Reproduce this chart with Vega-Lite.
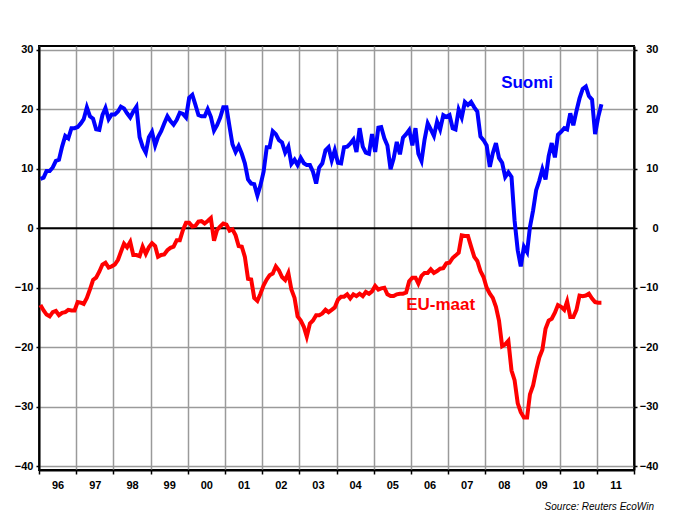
{
"$schema": "https://vega.github.io/schema/vega-lite/v6.json",
"width": 595, "height": 424,
"autosize": {"type": "none"},
"padding": {"left": 39, "top": 46, "right": 48, "bottom": 42},
"background": "white",
"config": {"font": "Liberation Sans", "view": {"stroke": "black", "strokeWidth": 2}},
"title": {"text": "Source: Reuters EcoWin", "orient": "bottom", "anchor": "end", "fontSize": 10, "fontStyle": "italic", "fontWeight": "normal", "color": "black", "offset": 12, "dx": -4},
"datasets": {
"main": [
{"d":"1996-01-15","fi":8.3,"eu":-12.9},{"d":"1996-02-15","fi":8.5,"eu":-13.8},{"d":"1996-03-15","fi":9.6,"eu":-14.5},{"d":"1996-04-15","fi":9.6,"eu":-14.8},{"d":"1996-05-15","fi":10.2,"eu":-14.1},{"d":"1996-06-15","fi":11.3,"eu":-13.9},{"d":"1996-07-15","fi":11.5,"eu":-14.6},{"d":"1996-08-15","fi":13.7,"eu":-14.2},{"d":"1996-09-15","fi":15.5,"eu":-14.1},{"d":"1996-10-15","fi":15.1,"eu":-13.7},{"d":"1996-11-15","fi":16.8,"eu":-13.8},{"d":"1996-12-15","fi":16.8,"eu":-13.8},
{"d":"1997-01-15","fi":17.0,"eu":-12.4},{"d":"1997-02-15","fi":17.6,"eu":-12.5},{"d":"1997-03-15","fi":18.3,"eu":-12.7},{"d":"1997-04-15","fi":20.3,"eu":-11.7},{"d":"1997-05-15","fi":18.8,"eu":-10.3},{"d":"1997-06-15","fi":18.4,"eu":-8.7},{"d":"1997-07-15","fi":16.6,"eu":-8.3},{"d":"1997-08-15","fi":16.5,"eu":-7.3},{"d":"1997-09-15","fi":19.0,"eu":-6.1},{"d":"1997-10-15","fi":20.2,"eu":-5.8},{"d":"1997-11-15","fi":18.3,"eu":-6.6},{"d":"1997-12-15","fi":19.1,"eu":-6.4},
{"d":"1998-01-15","fi":19.1,"eu":-6.1},{"d":"1998-02-15","fi":19.6,"eu":-5.3},{"d":"1998-03-15","fi":20.4,"eu":-4.0},{"d":"1998-04-15","fi":20.1,"eu":-2.6},{"d":"1998-05-15","fi":19.3,"eu":-3.2},{"d":"1998-06-15","fi":18.6,"eu":-2.3},{"d":"1998-07-15","fi":19.6,"eu":-4.5},{"d":"1998-08-15","fi":20.4,"eu":-4.5},{"d":"1998-09-15","fi":15.3,"eu":-4.7},{"d":"1998-10-15","fi":13.7,"eu":-3.1},{"d":"1998-11-15","fi":12.7,"eu":-4.3},{"d":"1998-12-15","fi":15.3,"eu":-3.2},
{"d":"1999-01-15","fi":16.2,"eu":-2.5},{"d":"1999-02-15","fi":13.9,"eu":-3.0},{"d":"1999-03-15","fi":15.3,"eu":-4.8},{"d":"1999-04-15","fi":16.3,"eu":-4.5},{"d":"1999-05-15","fi":17.6,"eu":-4.4},{"d":"1999-06-15","fi":18.8,"eu":-3.7},{"d":"1999-07-15","fi":18.0,"eu":-3.3},{"d":"1999-08-15","fi":17.4,"eu":-3.1},{"d":"1999-09-15","fi":18.2,"eu":-2.0},{"d":"1999-10-15","fi":19.4,"eu":-2.0},{"d":"1999-11-15","fi":19.2,"eu":-0.3},{"d":"1999-12-15","fi":18.6,"eu":0.9},
{"d":"2000-01-15","fi":21.9,"eu":0.9},{"d":"2000-02-15","fi":22.4,"eu":0.3},{"d":"2000-03-15","fi":20.8,"eu":0.4},{"d":"2000-04-15","fi":19.0,"eu":1.1},{"d":"2000-05-15","fi":18.8,"eu":1.2},{"d":"2000-06-15","fi":18.8,"eu":0.8},{"d":"2000-07-15","fi":20.0,"eu":1.2},{"d":"2000-08-15","fi":18.7,"eu":1.7},{"d":"2000-09-15","fi":16.4,"eu":-2.1},{"d":"2000-10-15","fi":17.3,"eu":-0.3},{"d":"2000-11-15","fi":18.6,"eu":0.3},{"d":"2000-12-15","fi":20.3,"eu":0.8},
{"d":"2001-01-15","fi":20.3,"eu":0.6},{"d":"2001-02-15","fi":17.0,"eu":-0.4},{"d":"2001-03-15","fi":14.1,"eu":-0.2},{"d":"2001-04-15","fi":12.8,"eu":-1.2},{"d":"2001-05-15","fi":13.8,"eu":-3.0},{"d":"2001-06-15","fi":12.5,"eu":-3.1},{"d":"2001-07-15","fi":10.9,"eu":-4.8},{"d":"2001-08-15","fi":8.2,"eu":-8.5},{"d":"2001-09-15","fi":7.5,"eu":-8.6},{"d":"2001-10-15","fi":7.4,"eu":-11.7},{"d":"2001-11-15","fi":5.5,"eu":-12.2},{"d":"2001-12-15","fi":7.2,"eu":-11.0},
{"d":"2002-01-15","fi":9.5,"eu":-9.6},{"d":"2002-02-15","fi":13.6,"eu":-8.6},{"d":"2002-03-15","fi":13.6,"eu":-7.9},{"d":"2002-04-15","fi":16.3,"eu":-7.6},{"d":"2002-05-15","fi":15.8,"eu":-6.4},{"d":"2002-06-15","fi":14.8,"eu":-7.1},{"d":"2002-07-15","fi":14.4,"eu":-8.2},{"d":"2002-08-15","fi":12.7,"eu":-8.7},{"d":"2002-09-15","fi":13.7,"eu":-7.5},{"d":"2002-10-15","fi":10.8,"eu":-10.3},{"d":"2002-11-15","fi":11.5,"eu":-11.7},{"d":"2002-12-15","fi":10.6,"eu":-14.8},
{"d":"2003-01-15","fi":11.8,"eu":-15.5},{"d":"2003-02-15","fi":10.9,"eu":-16.6},{"d":"2003-03-15","fi":10.6,"eu":-18.2},{"d":"2003-04-15","fi":10.6,"eu":-16.0},{"d":"2003-05-15","fi":9.5,"eu":-15.5},{"d":"2003-06-15","fi":7.5,"eu":-14.6},{"d":"2003-07-15","fi":10.2,"eu":-14.6},{"d":"2003-08-15","fi":10.9,"eu":-14.3},{"d":"2003-09-15","fi":13.1,"eu":-13.7},{"d":"2003-10-15","fi":13.6,"eu":-14.1},{"d":"2003-11-15","fi":11.4,"eu":-13.7},{"d":"2003-12-15","fi":13.1,"eu":-13.3},
{"d":"2004-01-15","fi":11.0,"eu":-12.0},{"d":"2004-02-15","fi":10.9,"eu":-11.5},{"d":"2004-03-15","fi":13.6,"eu":-11.5},{"d":"2004-04-15","fi":13.7,"eu":-11.1},{"d":"2004-05-15","fi":14.2,"eu":-11.8},{"d":"2004-06-15","fi":14.9,"eu":-11.1},{"d":"2004-07-15","fi":12.8,"eu":-11.4},{"d":"2004-08-15","fi":16.8,"eu":-11.0},{"d":"2004-09-15","fi":13.7,"eu":-11.4},{"d":"2004-10-15","fi":12.7,"eu":-10.7},{"d":"2004-11-15","fi":12.5,"eu":-11.0},{"d":"2004-12-15","fi":15.8,"eu":-10.6},
{"d":"2005-01-15","fi":12.8,"eu":-9.7},{"d":"2005-02-15","fi":16.9,"eu":-10.3},{"d":"2005-03-15","fi":17.0,"eu":-10.1},{"d":"2005-04-15","fi":15.1,"eu":-10.0},{"d":"2005-05-15","fi":13.9,"eu":-11.1},{"d":"2005-06-15","fi":9.9,"eu":-11.4},{"d":"2005-07-15","fi":11.7,"eu":-11.4},{"d":"2005-08-15","fi":14.5,"eu":-11.1},{"d":"2005-09-15","fi":12.4,"eu":-11.0},{"d":"2005-10-15","fi":15.2,"eu":-11.0},{"d":"2005-11-15","fi":15.8,"eu":-10.8},{"d":"2005-12-15","fi":16.5,"eu":-8.9},
{"d":"2006-01-15","fi":13.9,"eu":-8.3},{"d":"2006-02-15","fi":16.8,"eu":-8.3},{"d":"2006-03-15","fi":12.5,"eu":-9.3},{"d":"2006-04-15","fi":11.3,"eu":-8.0},{"d":"2006-05-15","fi":14.9,"eu":-7.5},{"d":"2006-06-15","fi":17.6,"eu":-7.5},{"d":"2006-07-15","fi":16.6,"eu":-6.9},{"d":"2006-08-15","fi":15.5,"eu":-7.5},{"d":"2006-09-15","fi":17.9,"eu":-7.2},{"d":"2006-10-15","fi":16.6,"eu":-6.8},{"d":"2006-11-15","fi":19.0,"eu":-6.7},{"d":"2006-12-15","fi":18.7,"eu":-5.9},
{"d":"2007-01-15","fi":19.0,"eu":-5.8},{"d":"2007-02-15","fi":16.8,"eu":-5.0},{"d":"2007-03-15","fi":16.6,"eu":-4.6},{"d":"2007-04-15","fi":19.9,"eu":-4.1},{"d":"2007-05-15","fi":18.6,"eu":-1.2},{"d":"2007-06-15","fi":21.2,"eu":-1.3},{"d":"2007-07-15","fi":20.7,"eu":-1.3},{"d":"2007-08-15","fi":21.2,"eu":-3.1},{"d":"2007-09-15","fi":20.3,"eu":-4.8},{"d":"2007-10-15","fi":19.6,"eu":-5.5},{"d":"2007-11-15","fi":15.4,"eu":-7.2},{"d":"2007-12-15","fi":14.8,"eu":-8.2},
{"d":"2008-01-15","fi":13.9,"eu":-10.0},{"d":"2008-02-15","fi":10.3,"eu":-11.0},{"d":"2008-03-15","fi":12.6,"eu":-11.7},{"d":"2008-04-15","fi":14.3,"eu":-13.2},{"d":"2008-05-15","fi":11.8,"eu":-15.5},{"d":"2008-06-15","fi":11.0,"eu":-19.8},{"d":"2008-07-15","fi":8.6,"eu":-19.5},{"d":"2008-08-15","fi":9.4,"eu":-18.9},{"d":"2008-09-15","fi":8.6,"eu":-23.9},{"d":"2008-10-15","fi":1.3,"eu":-25.5},{"d":"2008-11-15","fi":-3.7,"eu":-29.4},{"d":"2008-12-15","fi":-6.4,"eu":-30.9},
{"d":"2009-01-15","fi":-3.1,"eu":-31.8},{"d":"2009-02-15","fi":-4.0,"eu":-31.8},{"d":"2009-03-15","fi":0.2,"eu":-27.9},{"d":"2009-04-15","fi":3.0,"eu":-26.4},{"d":"2009-05-15","fi":6.4,"eu":-23.9},{"d":"2009-06-15","fi":8.0,"eu":-21.7},{"d":"2009-07-15","fi":9.9,"eu":-20.4},{"d":"2009-08-15","fi":8.2,"eu":-16.9},{"d":"2009-09-15","fi":12.1,"eu":-15.5},{"d":"2009-10-15","fi":14.3,"eu":-15.2},{"d":"2009-11-15","fi":11.9,"eu":-14.2},{"d":"2009-12-15","fi":15.7,"eu":-12.9},
{"d":"2010-01-15","fi":16.2,"eu":-13.2},{"d":"2010-02-15","fi":16.8,"eu":-13.7},{"d":"2010-03-15","fi":16.6,"eu":-12.3},{"d":"2010-04-15","fi":19.3,"eu":-14.9},{"d":"2010-05-15","fi":17.3,"eu":-14.9},{"d":"2010-06-15","fi":19.7,"eu":-13.7},{"d":"2010-07-15","fi":21.8,"eu":-11.3},{"d":"2010-08-15","fi":23.4,"eu":-11.4},{"d":"2010-09-15","fi":23.8,"eu":-11.3},{"d":"2010-10-15","fi":22.2,"eu":-11.0},{"d":"2010-11-15","fi":21.6,"eu":-11.8},{"d":"2010-12-15","fi":15.8,"eu":-12.4},
{"d":"2011-01-15","fi":18.7,"eu":-12.5},{"d":"2011-02-15","fi":20.8,"eu":-12.5}
]
},
"layer": [
{
"data": {"values": [{"z": 0}]},
"mark": {"type": "rule", "color": "black", "strokeWidth": 2},
"encoding": {"y": {"field": "z", "type": "quantitative", "axis": null, "scale": {"domain": [-40.6, 30.6], "nice": false, "zero": false}}}
},
{
"data": {"name": "main"},
"mark": {"type": "line", "color": "#ff0000", "strokeWidth": 4},
"encoding": {
"x": {"field": "d", "type": "temporal",
"scale": {"domain": [{"year": 1996, "month": 1, "date": 1}, {"year": 2012, "month": 1, "date": 1}], "nice": false},
"axis": {"title": null, "values": [{"year":1996,"month":1,"date":1},{"year":1997,"month":1,"date":1},{"year":1998,"month":1,"date":1},{"year":1999,"month":1,"date":1},{"year":2000,"month":1,"date":1},{"year":2001,"month":1,"date":1},{"year":2002,"month":1,"date":1},{"year":2003,"month":1,"date":1},{"year":2004,"month":1,"date":1},{"year":2005,"month":1,"date":1},{"year":2006,"month":1,"date":1},{"year":2007,"month":1,"date":1},{"year":2008,"month":1,"date":1},{"year":2009,"month":1,"date":1},{"year":2010,"month":1,"date":1},{"year":2011,"month":1,"date":1},{"year":2012,"month":1,"date":1}],
"format": "%y", "labelExpr": "year(datum.value) > 2011 ? '' : datum.label",
"labelOffset": 18.6, "labelAlign": "center", "labelFlush": false, "labelOverlap": false,
"labelFont": "Liberation Sans", "labelFontSize": 11, "labelFontWeight": "bold", "labelColor": "black", "labelPadding": 5,
"tickSize": 4, "tickColor": "black", "tickWidth": 1.5,
"domainColor": "black", "domainWidth": 2,
"grid": true, "gridColor": "#9a9a9a", "gridWidth": 1.5}},
"y": {"field": "eu", "type": "quantitative",
"scale": {"domain": [-40.6, 30.6], "nice": false, "zero": false},
"axis": {"title": null, "orient": "left", "values": [-40,-30,-20,-10,0,10,20,30],
"labelFont": "Liberation Sans", "labelFontSize": 11, "labelFontWeight": "bold", "labelColor": "black", "labelPadding": 3,
"tickSize": 3, "tickColor": "black", "tickWidth": 1.5,
"domainColor": "black", "domainWidth": 2,
"grid": true, "gridColor": "#9a9a9a", "gridWidth": 1.5}}
}
},
{
"data": {"name": "main"},
"mark": {"type": "line", "color": "#0000ff", "strokeWidth": 4},
"encoding": {
"x": {"field": "d", "type": "temporal", "axis": null},
"y": {"field": "fi", "type": "quantitative",
"axis": {"title": null, "orient": "right", "values": [-40,-30,-20,-10,0,10,20,30],
"labelFont": "Liberation Sans", "labelFontSize": 11, "labelFontWeight": "bold", "labelColor": "black", "labelAlign": "right", "labelPadding": 21,
"tickSize": 3, "tickColor": "black", "tickWidth": 1.5,
"domainColor": "black", "domainWidth": 2, "grid": false}}
}
},
{
"data": {"values": [{"d": "2009-02-15", "v": 24.4, "t": "Suomi"}]},
"mark": {"type": "text", "color": "#0000ff", "fontSize": 17, "fontWeight": "bold", "font": "Liberation Sans", "align": "center", "baseline": "middle"},
"encoding": {
"x": {"field": "d", "type": "temporal", "axis": null},
"y": {"field": "v", "type": "quantitative", "axis": null},
"text": {"field": "t"}
}
},
{
"data": {"values": [{"d": "2006-10-20", "v": -12.9, "t": "EU-maat"}]},
"mark": {"type": "text", "color": "#ff0000", "fontSize": 17, "fontWeight": "bold", "font": "Liberation Sans", "align": "center", "baseline": "middle"},
"encoding": {
"x": {"field": "d", "type": "temporal", "axis": null},
"y": {"field": "v", "type": "quantitative", "axis": null},
"text": {"field": "t"}
}
}
],
"resolve": {"scale": {"x": "shared", "y": "shared"}, "axis": {"x": "independent", "y": "independent"}}
}
